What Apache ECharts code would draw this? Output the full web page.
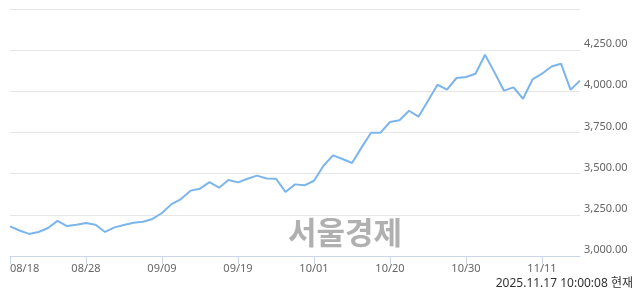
<!DOCTYPE html>
<html><head><meta charset="utf-8">
<script src="https://cdn.jsdelivr.net/npm/echarts@6/dist/echarts.min.js"></script>
<style>html,body{margin:0;padding:0;background:#fff}#c{width:640px;height:294px}</style>
</head><body><div id="c"></div>
<script>
const dates = ["08/18","08/19","08/20","08/21","08/22","08/25","08/26","08/27","08/28","08/29",
"09/01","09/02","09/03","09/04","09/05","09/08","09/09","09/10","09/11","09/12",
"09/15","09/16","09/17","09/18","09/19","09/22","09/23","09/24","09/25","09/26",
"09/29","09/30","10/01","10/02","10/10","10/13","10/14","10/15","10/16","10/17",
"10/20","10/21","10/22","10/23","10/24","10/27","10/28","10/29","10/30","10/31",
"11/03","11/04","11/05","11/06","11/07","11/10","11/11","11/12","11/13","11/14","11/17"];
const values = [3180,3155,3134,3146,3170,3213,3182,3190,3200,3190,
3146,3174,3188,3202,3208,3225,3261,3315,3346,3397,
3409,3449,3415,3462,3447,3469,3488,3471,3469,3389,
3435,3429,3457,3548,3611,3589,3565,3658,3749,3749,
3814,3824,3882,3846,3943,4040,4010,4081,4087,4107,
4222,4115,4004,4024,3955,4072,4107,4151,4168,4010,4065];
const yMin = 3000, yMax = 4500, yStep = 250;
const watermark = "서울경제";
const stamp = "2025.11.17 10:00:08 현재";

const chart = echarts.init(document.getElementById('c'), null, {renderer:'canvas'});
chart.setOption({
  animation:false,
  grid:{left:10,right:60,top:9,bottom:38,containLabel:false},
  xAxis:{
    type:'category', data:dates, boundaryGap:false,
    axisLine:{lineStyle:{color:'#ccd6eb',width:1}},
    axisTick:{show:true,interval:7,length:8,lineStyle:{color:'#ccd6eb'}},
    axisLabel:{interval:7,color:'#666666',fontFamily:'Noto Sans',fontSize:11,margin:7,alignMinLabel:'left'},
    splitLine:{show:false}
  },
  yAxis:{
    type:'value', position:'right', min:yMin, max:yMax, interval:yStep,
    axisLine:{show:false}, axisTick:{show:false},
    splitLine:{lineStyle:{color:'#e6e6e6',width:1}},
    axisLabel:{color:'#666666',fontFamily:'Noto Sans',fontSize:11,margin:4,verticalAlign:'bottom',lineHeight:12,
      showMaxLabel:false,
      formatter:v=>v.toLocaleString('en-US',{minimumFractionDigits:2,maximumFractionDigits:2})}
  },
  graphic:[
    {type:'text',left:288,top:217,z:0,style:{text:watermark,font:'bold 31px "Noto Sans CJK KR"',fill:'#b0b0b0'}},
    {type:'text',right:7,top:278,style:{text:stamp,font:'12px "Noto Sans","Noto Sans CJK KR"',fill:'#333333'}}
  ],
  series:[{type:'line',data:values,showSymbol:false,symbol:'none',
    lineStyle:{color:'#7cb5ec',width:2},z:5}]
});
</script></body></html>
